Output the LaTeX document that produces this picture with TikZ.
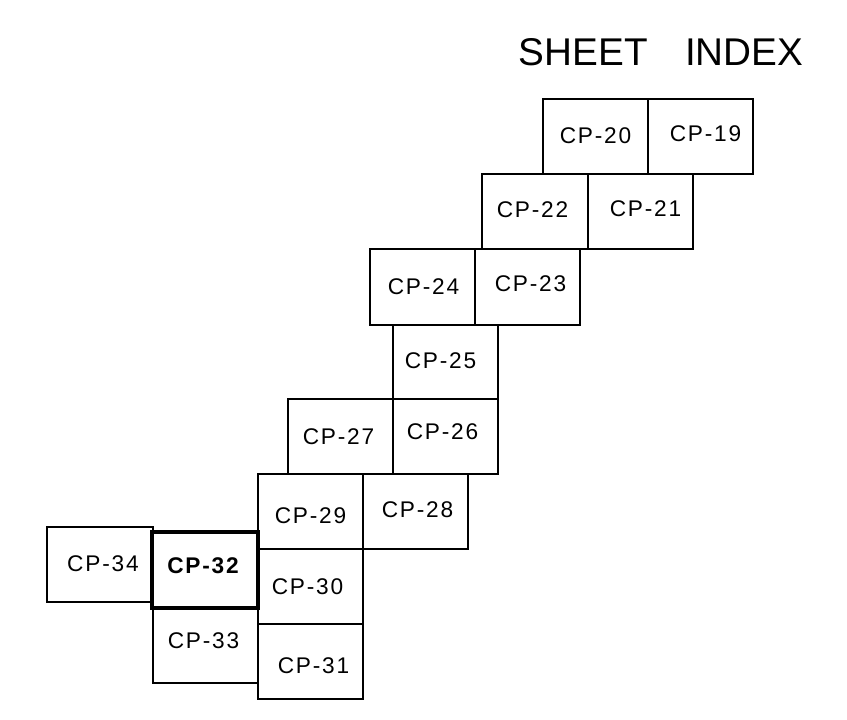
\documentclass[tikz,border=0pt]{standalone}
\usepackage{fontspec}
\setmainfont{Liberation Sans}
\newfontfamily\cadlab[LetterSpace=8]{Liberation Sans}
\tikzset{
 sheet/.style={draw=black,line width=1.2pt,line join=miter,rectangle,inner sep=0pt,outer sep=0pt},
 current/.style={draw=black,line width=2.9pt,rectangle,inner sep=0pt,outer sep=0pt},
 lab/.style={font=\cadlab\fontsize{17}{18}\selectfont,inner sep=0pt,text=black},
 boldlab/.style={font=\cadlab\fontsize{17}{18}\selectfont\bfseries,inner sep=0pt,text=black},
}
\newcommand{\sh}[5]{% name, x0,y0,x1,y1 in px
 \node[sheet,minimum width=#4*0.75pt-#2*0.75pt,minimum height=#5*0.75pt-#3*0.75pt,anchor=north west] (#1) at (#2*0.75pt,-#3*0.75pt) {};}
\begin{document}
\begin{tikzpicture}[x=1pt,y=1pt]
\useasboundingbox (0,0) rectangle (847*0.75pt,-719*0.75pt);
\fill[white] (0,0) rectangle (847*0.75pt,-719*0.75pt);
\sh{s20}{543}{99}{648}{174}
\sh{s19}{648}{99}{753}{174}
\sh{s22}{482}{174}{588}{249}
\sh{s21}{588}{174}{693}{249}
\sh{s24}{370}{249}{475}{325}
\sh{s23}{475}{249}{580}{325}
\sh{s25}{393}{325}{498}{399}
\sh{s27}{288}{399}{393}{474}
\sh{s26}{393}{399}{498}{474}
\sh{s29}{258}{474}{363}{549}
\sh{s28}{363}{474}{468}{549}
\sh{s34}{47}{527}{153}{602}
\sh{s30}{258}{549}{363}{624}
\sh{s33}{153}{608}{258}{683}
\sh{s31}{258}{624}{363}{699}
\node[current,minimum width=106*0.75pt,minimum height=76*0.75pt,anchor=north west] (s32) at (152*0.75pt,-532*0.75pt) {};
\foreach \n/\x/\y/\t in {a/595.5/135.5/CP-20,b/705.5/133.5/CP-19,c/532.5/210/CP-22,d/645.5/209/CP-21,e/423.5/287/CP-24,f/530.5/284/CP-23,g/440.5/361/CP-25,h/338.5/437/CP-27,i/442.5/432/CP-26,j/310.5/516/CP-29,k/417.5/510/CP-28,l/103/563.5/CP-34,m/307.5/587/CP-30,n/203.5/641/CP-33,o/313.5/666/CP-31}
 \node[lab] (\n) at (\x*0.75pt,-\y*0.75pt) {\t};
\node[boldlab] (p) at (203*0.75pt,-565.5*0.75pt) {CP-32};
\node[font=\fontsize{29}{30}\selectfont,inner sep=0pt] (title) at (661*0.75pt,-52.5*0.75pt) {SHEET\hspace{20pt} INDEX};
\end{tikzpicture}
\end{document}
